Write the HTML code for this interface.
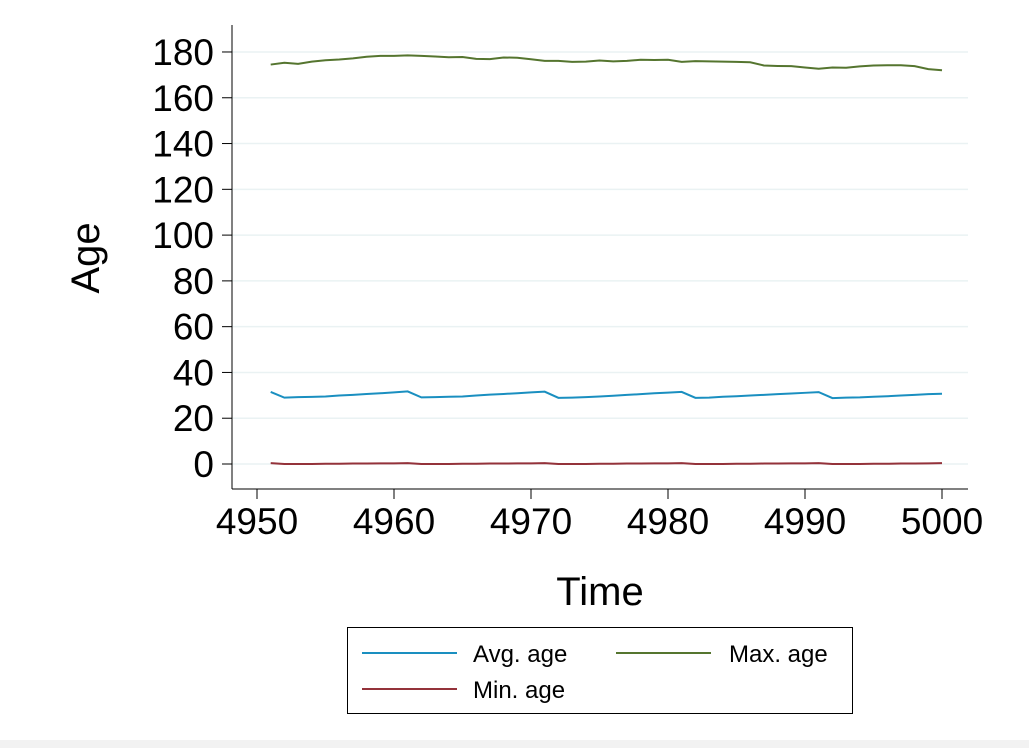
<!DOCTYPE html>
<html><head><meta charset="utf-8"><style>
body{margin:0;background:#fff;width:1029px;height:748px;overflow:hidden;font-family:"Liberation Sans",sans-serif}
</style></head><body>
<svg width="1029" height="748" xmlns="http://www.w3.org/2000/svg">
<rect x="0" y="740" width="1029" height="8" fill="#f2f2f2"/>
<g id="grid"></g><g id="axes"></g><g id="series"></g>
<text x="85" y="258" font-size="40" text-anchor="middle" transform="rotate(-90 85 258)" dy="14">Age</text>
<text x="600" y="605" font-size="40" text-anchor="middle">Time</text>
<g>
<rect x="347.5" y="627.5" width="505" height="86" fill="#fff" stroke="#000" stroke-width="1"/>
<line x1="362" y1="653" x2="457" y2="653" stroke="#1a8fc0" stroke-width="2"/>
<text x="473" y="662" font-size="24">Avg. age</text>
<line x1="616" y1="653" x2="711" y2="653" stroke="#55752f" stroke-width="2"/>
<text x="729" y="662" font-size="24">Max. age</text>
<line x1="362" y1="689" x2="457" y2="689" stroke="#94323a" stroke-width="2"/>
<text x="473" y="698" font-size="24">Min. age</text>
</g>
</svg>
<script>
const years=[];for(let t=4951;t<=5000;t++)years.push(t);
const yTicks=[0,20,40,60,80,100,120,140,160,180];
const xTicks=[4950,4960,4970,4980,4990,5000];
const maxAge=[174.5,175.3,174.8,175.8,176.4,176.7,177.2,177.9,178.3,178.3,178.5,178.3,178.0,177.7,177.8,177.0,176.9,177.6,177.5,176.8,176.1,176.1,175.7,175.8,176.3,175.9,176.1,176.6,176.5,176.6,175.7,176.0,175.9,175.8,175.7,175.5,174.1,173.9,173.8,173.2,172.7,173.2,173.1,173.7,174.1,174.2,174.2,173.8,172.5,172.0];
const avgAge=[31.5,29.0,29.2,29.3,29.5,29.9,30.2,30.6,30.9,31.3,31.7,29.1,29.2,29.4,29.5,29.9,30.3,30.6,30.9,31.3,31.6,28.9,29.0,29.2,29.5,29.8,30.2,30.5,30.9,31.2,31.5,28.9,29.0,29.4,29.6,29.9,30.2,30.5,30.8,31.1,31.4,28.8,29.0,29.1,29.4,29.6,29.9,30.2,30.5,30.7];
const minAge=[0.4,0.0,0.0,0.0,0.1,0.1,0.2,0.2,0.3,0.3,0.4,0.0,0.0,0.0,0.1,0.1,0.2,0.2,0.3,0.3,0.4,0.0,0.0,0.0,0.1,0.1,0.2,0.2,0.3,0.3,0.4,0.0,0.0,0.0,0.1,0.1,0.2,0.2,0.3,0.3,0.4,0.0,0.0,0.0,0.1,0.1,0.2,0.2,0.3,0.4];
const NS="http://www.w3.org/2000/svg";
const X=t=>257+(t-4950)*13.7;
const Y=v=>464-v*2.289;
function mk(tag,attrs,parent){const e=document.createElementNS(NS,tag);for(const k in attrs)e.setAttribute(k,attrs[k]);document.getElementById(parent).appendChild(e);return e;}
yTicks.forEach(v=>{
 const g=mk('line',{x1:232,x2:968,y1:Y(v),y2:Y(v),stroke:'#eaf2f3','stroke-width':1.5},'grid');
 
 
 const tk=mk('line',{x1:222,x2:232,y1:Y(v),y2:Y(v),stroke:'#000','stroke-width':1},'axes');
 
 
 const tx=mk('text',{x:214,y:Y(v)+13,'font-size':37,'text-anchor':'end'},'axes');
 tx.textContent=v;
 
 
});
xTicks.forEach(t=>{
 const tk=mk('line',{x1:X(t),x2:X(t),y1:489,y2:499,stroke:'#000','stroke-width':1},'axes');
 
 
 const tx=mk('text',{x:X(t),y:534,'font-size':37,'text-anchor':'middle'},'axes');
 tx.textContent=t;
 
 
});
const ya=mk('line',{x1:232,x2:232,y1:25,y2:489,stroke:'#000','stroke-width':1},'axes');


const xa=mk('line',{x1:232,x2:968,y1:489,y2:489,stroke:'#000','stroke-width':1},'axes');


[[avgAge,'#1a8fc0','avg-age-line'],[maxAge,'#55752f','max-age-line'],[minAge,'#94323a','min-age-line']].forEach(([d,c,n])=>{
 const p=mk('polyline',{points:d.map((v,i)=>X(years[i])+','+Y(v)).join(' '),fill:'none',stroke:c,'stroke-width':2},'series');
 
 
});
</script>
</body></html>
